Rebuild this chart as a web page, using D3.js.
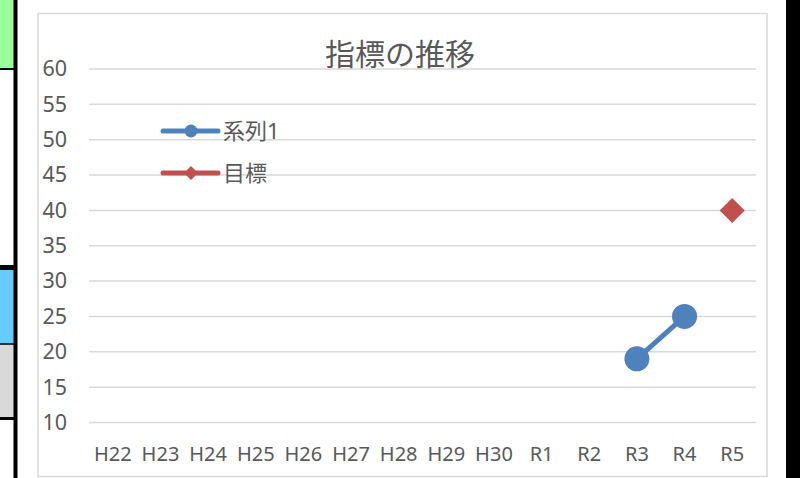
<!DOCTYPE html>
<html><head><meta charset="utf-8">
<script src="https://cdn.jsdelivr.net/npm/d3@7"></script>
<style>body{margin:0;background:#fff}svg{display:block}</style>
</head><body>
<svg id="c" width="800" height="478"></svg>
<script>
const categories = ["H22","H23","H24","H25","H26","H27","H28","H29","H30","R1","R2","R3","R4","R5"];
const series1 = [null,null,null,null,null,null,null,null,null,null,null,19,25,null];
const target = [null,null,null,null,null,null,null,null,null,null,null,null,null,40];
const yTicks = [10,15,20,25,30,35,40,45,50,55,60];
const title = "指標の推移";
const legendNames = ["系列1","目標"];

const svg = d3.select("#c");
const font = "'Noto Sans','Noto Sans CJK JP',sans-serif";
const txt = "#595959";

// surrounding spreadsheet cells
svg.append("rect").attr("x",0).attr("y",0).attr("width",14).attr("height",68).attr("fill","#99ff99");
svg.append("rect").attr("x",0).attr("y",270).attr("width",14).attr("height",73).attr("fill","#66ccff");
svg.append("rect").attr("x",0).attr("y",345).attr("width",14).attr("height",72).attr("fill","#d9d9d9");
svg.append("rect").attr("x",0).attr("y",68).attr("width",15).attr("height",2).attr("fill","#000");
svg.append("rect").attr("x",0).attr("y",265).attr("width",15).attr("height",5).attr("fill","#000");
svg.append("rect").attr("x",0).attr("y",343).attr("width",15).attr("height",2).attr("fill","#333");
svg.append("rect").attr("x",0).attr("y",417).attr("width",15).attr("height",3).attr("fill","#000");
svg.append("rect").attr("x",13.5).attr("y",0).attr("width",4).attr("height",478).attr("fill","#000");
svg.append("rect").attr("x",786).attr("y",0).attr("width",14).attr("height",478).attr("fill","#000");

// chart area border
svg.append("rect").attr("x",38).attr("y",13.5).attr("width",729).attr("height",463)
  .attr("fill","#fff").attr("stroke","#d9d9d9").attr("stroke-width",1.5);

const x = d3.scaleBand().domain(categories).range([89,756]);
const y = d3.scaleLinear().domain([10,60]).range([422.5,69]);

// gridlines
svg.append("g").selectAll("line").data(yTicks).join("line")
  .attr("x1",89).attr("x2",756).attr("y1",d=>y(d)).attr("y2",d=>y(d))
  .attr("stroke","#d9d9d9").attr("stroke-width",1.5);

// y axis
const ya = svg.append("g").attr("transform","translate(67,0)")
  .call(d3.axisLeft(y).tickValues(yTicks).tickSize(0).tickPadding(0));
ya.select(".domain").remove();
ya.selectAll("text").attr("fill",txt).style("font-family",font).style("font-size","21.5px");

// x axis
const xa = svg.append("g").attr("transform","translate(0,447)")
  .call(d3.axisBottom(x).tickSize(0).tickPadding(0));
xa.select(".domain").remove();
xa.selectAll("text").attr("fill",txt).style("font-family",font).style("font-size","20px");

// title
svg.append("text").attr("x",400).attr("y",65).attr("text-anchor","middle")
  .attr("fill",txt).style("font-family",font).style("font-size","30px").text(title);

// series 1
const blue = "#4f81bd", red = "#c0504d";
const pts = categories.map((c,i)=>({c,v:series1[i]})).filter(d=>d.v!=null);
svg.append("path").datum(pts)
  .attr("d",d3.line().x(d=>x(d.c)+x.bandwidth()/2).y(d=>y(d.v)))
  .attr("fill","none").attr("stroke",blue).attr("stroke-width",5);
svg.append("g").selectAll("circle").data(pts).join("circle")
  .attr("cx",d=>x(d.c)+x.bandwidth()/2).attr("cy",d=>y(d.v)).attr("r",12.5).attr("fill",blue);

// target
const tpts = categories.map((c,i)=>({c,v:target[i]})).filter(d=>d.v!=null);
svg.append("g").selectAll("path").data(tpts).join("path")
  .attr("transform",d=>`translate(${x(d.c)+x.bandwidth()/2},${y(d.v)})`)
  .attr("d","M0,-12.5L12.5,0L0,12.5L-12.5,0Z").attr("fill",red);

// legend
const lg = [{n:legendNames[0],c:blue,y:131,m:"circle"},{n:legendNames[1],c:red,y:173,m:"diamond"}];
lg.forEach(d=>{
  svg.append("line").attr("x1",163).attr("x2",218).attr("y1",d.y).attr("y2",d.y)
    .attr("stroke",d.c).attr("stroke-width",5).attr("stroke-linecap","round");
  if(d.m==="circle") svg.append("circle").attr("cx",191).attr("cy",d.y).attr("r",6.5).attr("fill",d.c);
  else svg.append("path").attr("transform",`translate(191,${d.y})`).attr("d","M0,-7L7,0L0,7L-7,0Z").attr("fill",d.c);
  svg.append("text").attr("x",223).attr("y",d.y).attr("dy","0.35em").attr("fill",txt)
    .style("font-family",font).style("font-size","22px").text(d.n);
});
</script>
</body></html>
